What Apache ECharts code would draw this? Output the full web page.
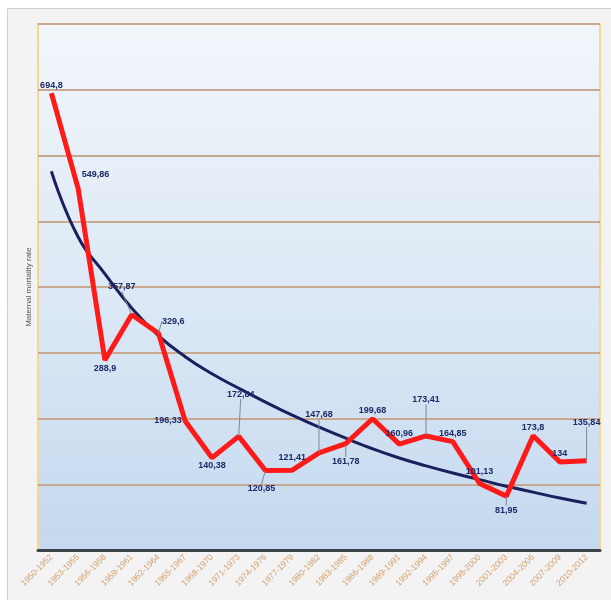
<!DOCTYPE html>
<html>
<head>
<meta charset="utf-8">
<script src="https://cdn.jsdelivr.net/npm/echarts@6/dist/echarts.min.js"></script>
<style>
  html, body { margin: 0; padding: 0; background: #ffffff; }
  #main { width: 611px; height: 600px; }
</style>
</head>
<body>
<div id="main"></div>
<script>
// periods on the x axis
var periods = ['1950-1952', '1953-1955', '1956-1958', '1959-1961', '1962-1964', '1965-1967', '1968-1970',
  '1971-1973', '1974-1976', '1977-1979', '1980-1982', '1983-1985', '1986-1988', '1989-1991', '1992-1994',
  '1995-1997', '1998-2000', '2001-2003', '2004-2006', '2007-2009', '2010-2012'];

// maternal mortality rate
var rates = [694.8, 549.86, 288.9, 357.87, 329.6, 196.33, 140.38, 172.84, 120.85, 121.41, 147.68,
  161.78, 199.68, 160.96, 173.41, 164.85, 101.13, 81.95, 173.8, 134, 135.84];

// trend curve
var trend = [576, 476, 420, 368, 326, 294, 268, 246, 225, 205, 187, 170, 154, 140, 128, 117, 107, 97, 88, 79, 71];

// where each value label sits, and how far it is pulled away (with a leader line)
var labelPos = ['top', 'right', 'bottom', 'top', 'right', 'left', 'bottom', 'top', 'bottom', 'top', 'top',
  'bottom', 'top', 'top', 'top', 'top', 'top', 'bottom', 'top', 'top', 'top'];
var labelDx = [0, 0, 0, -10, 0, 0, 0, 2, -4, 0, 0, 0, 0, 0, 0, 0, 0, 0, 0, 0, 0];
var labelDy = [0, -14, 0, -20, -12, 0, 0, -34, 10, -5, -30, 10, 0, -3, -28, 0, -4, 6, 0, 0, -30];
var leader = [false, false, false, true, true, false, false, true, true, false, true, true, false, false,
  true, false, false, true, false, false, true];

var myChart = echarts.init(document.getElementById('main'));

var rateData = rates.map(function (v, i) {
  return {
    value: v,
    label: { position: labelPos[i], distance: 3 },
    labelLine: { show: leader[i] }
  };
});

option = {
  backgroundColor: '#ffffff',
  animation: false,
  graphic: [
    {
      type: 'rect',
      z: -10,
      shape: { x: 7.5, y: 8.5, width: 610, height: 600 },
      style: { fill: '#f3f3f3', stroke: '#cfcfcf', lineWidth: 1 }
    }
  ],
  grid: {
    left: 38,
    right: 11,
    top: 24,
    bottom: 50,
    show: true,
    borderColor: '#f3d88e',
    borderWidth: 2,
    backgroundColor: new echarts.graphic.LinearGradient(0, 0, 0, 1, [
      { offset: 0, color: '#f2f6fb' },
      { offset: 0.5, color: '#dde9f5' },
      { offset: 1, color: '#c4d9ef' }
    ])
  },
  xAxis: {
    type: 'category',
    data: periods,
    boundaryGap: true,
    axisLine: { lineStyle: { color: '#3a434c', width: 3 } },
    axisTick: { show: false },
    axisLabel: {
      interval: 0,
      rotate: 45,
      fontSize: 8.5,
      color: '#d4a070',
      fontFamily: 'Liberation Sans',
      margin: 6
    }
  },
  yAxis: {
    type: 'value',
    min: 0,
    max: 800,
    interval: 100,
    name: 'Maternal mortality rate',
    nameLocation: 'middle',
    nameGap: 5,
    nameRotate: 90,
    nameTextStyle: { fontSize: 8, color: '#555555', fontFamily: 'Liberation Sans' },
    axisLine: { show: false },
    axisTick: { show: false },
    axisLabel: { show: false },
    splitLine: { lineStyle: { color: '#c9a890', width: 2 } }
  },
  series: [
    {
      name: 'trend',
      type: 'line',
      data: trend,
      smooth: true,
      showSymbol: false,
      lineStyle: { color: '#1a1f5e', width: 3 },
      z: 3
    },
    {
      name: 'rate',
      type: 'line',
      data: rateData,
      symbol: 'circle',
      symbolSize: 1,
      showSymbol: true,
      itemStyle: { color: 'rgba(0,0,0,0)' },
      lineStyle: { color: '#ff1a1a', width: 5 },
      z: 4,
      label: {
        show: true,
        fontSize: 9,
        fontWeight: 'bold',
        fontFamily: 'Liberation Sans',
        color: '#1c2a68',
        formatter: function (p) {
          return String(p.value).replace('.', ',');
        }
      },
      labelLine: {
        lineStyle: { color: '#7f8890', width: 1 }
      },
      labelLayout: function (p) {
        return { dx: labelDx[p.dataIndex], dy: labelDy[p.dataIndex] };
      }
    }
  ]
};

myChart.setOption(option);
</script>
</body>
</html>
